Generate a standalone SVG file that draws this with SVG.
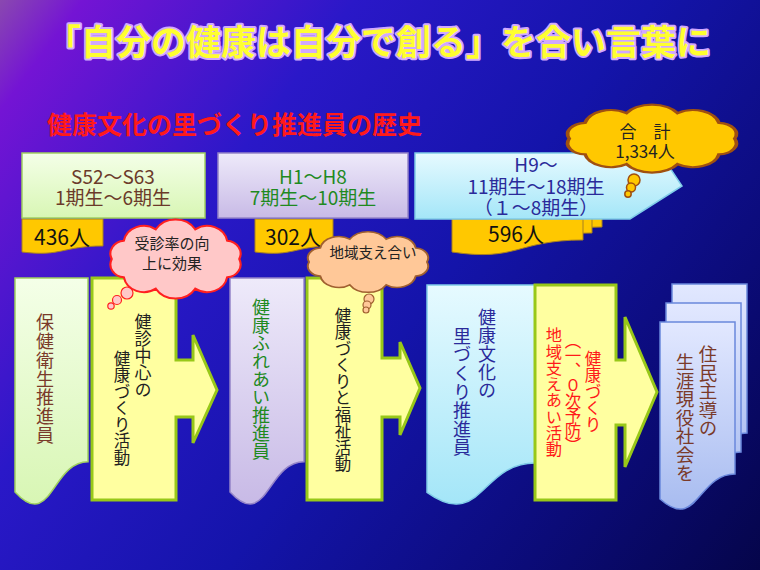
<svg xmlns="http://www.w3.org/2000/svg" width="760" height="570" viewBox="0 0 760 570">
<defs>
  <linearGradient id="bg" gradientUnits="userSpaceOnUse" x1="0" y1="0" x2="760" y2="570">
    <stop offset="0" stop-color="#8a48b0"/>
    <stop offset="0.07" stop-color="#7414d4"/>
    <stop offset="0.3" stop-color="#2a18c8"/>
    <stop offset="0.55" stop-color="#1414aa"/>
    <stop offset="0.8" stop-color="#0b0b78"/>
    <stop offset="1" stop-color="#05054a"/>
  </linearGradient>
  <linearGradient id="gGreen" x1="0" y1="0" x2="0" y2="1">
    <stop offset="0" stop-color="#f4ffe8"/>
    <stop offset="1" stop-color="#d8f6b4"/>
  </linearGradient>
  <linearGradient id="gLav" x1="0" y1="0" x2="0" y2="1">
    <stop offset="0" stop-color="#eeeafa"/>
    <stop offset="1" stop-color="#c8bae6"/>
  </linearGradient>
  <linearGradient id="gCyan" x1="0" y1="0" x2="0" y2="1">
    <stop offset="0" stop-color="#e6faff"/>
    <stop offset="1" stop-color="#a4e6f8"/>
  </linearGradient>
  <linearGradient id="gDoc" x1="0" y1="0" x2="0" y2="1">
    <stop offset="0" stop-color="#e2e8ff"/>
    <stop offset="1" stop-color="#a8bcf0"/>
  </linearGradient>
  <path id="cloud" d="M94,30 A10,10 0 0 1 85.6,44.1 A14,14 0 0 1 63.6,52.8 A16,16 0 0 1 36.4,52.8 A14,14 0 0 1 14.4,44.1 A10,10 0 0 1 6,30 A10,10 0 0 1 14.4,15.9 A14,14 0 0 1 36.4,7.2 A16,16 0 0 1 63.6,7.2 A14,14 0 0 1 85.6,15.9 A10,10 0 0 1 94,30 Z"/>
</defs>
<style>
  text { font-family: "Noto Sans CJK JP", "Liberation Sans", sans-serif; }
  .title { font-size: 35px; font-weight: bold; fill: #ffff30; stroke: #d0a8ff; stroke-width: 4px; stroke-linejoin: round; paint-order: stroke; }
  .sub { font-size: 25px; font-weight: bold; fill: #ff1a1a; }
  .box { font-size: 19px; text-anchor: middle; }
  .flagt { font-size: 21px; text-anchor: middle; fill: #111; }
  .ct { text-anchor: middle; fill: #222; }
  .vt { writing-mode: vertical-rl; }
  .arrow { fill: #ffffa0; stroke: #98c818; stroke-width: 3; stroke-linejoin: miter; }
  .flag { fill: #ffc800; stroke: #a88020; stroke-width: 1; }
  .cl { vector-effect: non-scaling-stroke; }
</style>
<rect x="0" y="0" width="760" height="570" fill="url(#bg)"/>

<g id="title">
  <text class="title" x="378.5" y="55" text-anchor="middle">「自分の健康は自分で創る」を合い言葉に</text>
</g>
<g id="subtitle">
  <text class="sub" x="47" y="134">健康文化の里づくり推進員の歴史</text>
</g>

<!-- count flags (drawn under period boxes) -->
<g id="count1">
  <path class="flag" d="M22,219 H103 V246 C62,246 62,257 22,252 Z"/>
  <text class="flagt" x="62" y="244.5">436人</text>
</g>
<g id="count2">
  <path class="flag" d="M255,219 H333 V246 C294,246 294,257 255,252 Z"/>
  <text class="flagt" x="293" y="244.5">302人</text>
</g>
<g id="count3">
  <path class="flag" d="M472,206 H602 V227 C537,227 537,249 472,239 Z"/>
  <path class="flag" d="M462,212 H592 V233 C527,233 527,255 462,245 Z"/>
  <path class="flag" d="M452,219 H583 V240 C517,240 517,262 452,252 Z"/>
  <text class="flagt" x="516" y="241.5">596人</text>
</g>

<g id="period1">
  <rect x="22" y="153" width="183" height="65" fill="url(#gGreen)" stroke="#a0d060" stroke-width="1.5"/>
  <text class="box" x="113" y="184" fill="#6b3a2a">S52～S63</text>
  <text class="box" x="113" y="205" fill="#6b3a2a">1期生～6期生</text>
</g>
<g id="period2">
  <rect x="218" y="153" width="190" height="65" fill="url(#gLav)" stroke="#9484c8" stroke-width="1.5"/>
  <text class="box" x="313" y="184" fill="#1f8a1f">H1～H8</text>
  <text class="box" x="313" y="205" fill="#1f8a1f">7期生～10期生</text>
</g>
<g id="period3">
  <path d="M415,153 H660 L682,186 L630,219 H415 Z" fill="url(#gCyan)" stroke="#80cce8" stroke-width="1.5"/>
  <text class="box" x="536" y="172" fill="#2a2a9a">H9～</text>
  <text class="box" x="536" y="194" fill="#2a2a9a">11期生～18期生</text>
  <text class="box" x="536" y="215" fill="#2a2a9a">（１～8期生）</text>
</g>

<!-- bottom row -->
<g id="hoken">
  <path d="M15,278 H88 V461.7 C51.5,461.7 51.5,531.6 15,491.9 Z" fill="url(#gGreen)" stroke="#a0d060" stroke-width="1.5"/>
  <text class="vt" x="45" y="313" font-size="18" letter-spacing="0.9" fill="#7a3a2a">保健衛生推進員</text>
</g>
<g id="kenshin">
  <path class="arrow" d="M92,278 H176 V360 H193 V335 L217,390 L193,443 V417 H176 V500 H92 Z"/>
  <text class="vt" x="143" y="313" font-size="17" fill="#222">健診中心の</text>
  <text class="vt" x="122" y="350" font-size="16.5" fill="#222">健康づくり活動</text>
</g>
<g id="fureai">
  <path d="M230,278 H304 V461.7 C267,461.7 267,531.6 230,491.9 Z" fill="url(#gLav)" stroke="#9484c8" stroke-width="1.5"/>
  <text class="vt" x="261" y="298" font-size="18" fill="#1f8a1f">健康ふれあい推進員</text>
</g>
<g id="fukushi">
  <path class="arrow" d="M307,278 H382 V358 H400 V342 L420,388 L400,435 V417 H382 V500 H307 Z"/>
  <text class="vt" x="343" y="307" font-size="16.5" fill="#222">健康づくりと福祉活動</text>
</g>
<g id="bunka">
  <path d="M427,285 H535 V463 C481,463 481,530.9 427,492.3 Z" fill="url(#gCyan)" stroke="#80cce8" stroke-width="1.5"/>
  <text class="vt" x="487" y="308" font-size="18" letter-spacing="0.4" fill="#2a2a9a">健康文化の</text>
  <text class="vt" x="462" y="327" font-size="18" letter-spacing="0.6" fill="#2a2a9a">里づくり推進員</text>
</g>
<g id="chiiki">
  <path class="arrow" d="M535,285 H616 V360 H625 V317 L657,392 L625,467 V425 H616 V500 H535 Z"/>
  <text class="vt" x="593" y="350" font-size="16.5" fill="#ff1a1a">健康づくり</text>
  <text class="vt" x="573" y="332" font-size="16.5" letter-spacing="-1.5" fill="#ff1a1a">（一、０次予防）</text>
  <text class="vt" x="554" y="327" font-size="16.3" fill="#ff1a1a">地域支えあい活動</text>
</g>
<g id="shakai">
  <path d="M672,284 H747 V433 C709.5,433 709.5,490 672,459.7 Z" fill="url(#gDoc)" stroke="#6a88dc" stroke-width="1.5"/>
  <path d="M666,303 H741 V452 C703.5,452 703.5,509 666,478.7 Z" fill="url(#gDoc)" stroke="#6a88dc" stroke-width="1.5"/>
  <path d="M660,322 H735 V474 C697.5,474 697.5,532 660,499 Z" fill="url(#gDoc)" stroke="#6a88dc" stroke-width="1.5"/>
  <text class="vt" x="708" y="345" font-size="18.5" fill="#7a3a2a">住民主導の</text>
  <text class="vt" x="685" y="353" font-size="18.5" fill="#7a3a2a">生涯現役社会を</text>
</g>

<!-- callout clouds -->
<g id="cloud-jushin">
  <circle cx="127" cy="293" r="6" fill="#ffc8c8" stroke="#ff2020" stroke-width="1.2"/>
  <circle cx="117" cy="300" r="4.5" fill="#ffc8c8" stroke="#ff2020" stroke-width="1.2"/>
  <circle cx="111" cy="306" r="3.2" fill="#ffc8c8" stroke="#ff2020" stroke-width="1.2"/>
  <use href="#cloud" class="cl" transform="translate(103,220) scale(1.45,1.3)" fill="#ffc8c8" stroke="#ff2020" stroke-width="1.5"/>
  <text class="ct" x="172" y="248.5" style="font-size:15px">受診率の向</text>
  <text class="ct" x="172" y="268.5" style="font-size:15px">上に効果</text>
</g>
<g id="cloud-chiiki">
  <circle cx="369" cy="299" r="5" fill="#ffc898" stroke="#a06030" stroke-width="1.2"/>
  <circle cx="367" cy="305" r="4" fill="#ffc898" stroke="#a06030" stroke-width="1.2"/>
  <circle cx="366" cy="310" r="3" fill="#ffc898" stroke="#a06030" stroke-width="1.2"/>
  <use href="#cloud" class="cl" transform="translate(301,232) scale(1.34,1.0)" fill="#ffc898" stroke="#a06030" stroke-width="1.5"/>
  <text class="ct" x="373" y="258" style="font-size:14.5px">地域支え合い</text>
</g>
<g id="cloud-total">
  <circle cx="634" cy="180" r="6" fill="#ffc800" stroke="#a05010" stroke-width="1.5"/>
  <circle cx="631" cy="187.5" r="4.5" fill="#ffc800" stroke="#a05010" stroke-width="1.5"/>
  <circle cx="628" cy="194" r="3.2" fill="#ffc800" stroke="#a05010" stroke-width="1.5"/>
  <use href="#cloud" class="cl" transform="translate(558,105) scale(1.88,1.12)" fill="#ffc800" stroke="#a05010" stroke-width="2"/>
  <text class="ct" x="645" y="138" style="font-size:17px">合　計</text>
  <text class="ct" x="645" y="158" style="font-size:17px">1,334人</text>
</g>
</svg>
